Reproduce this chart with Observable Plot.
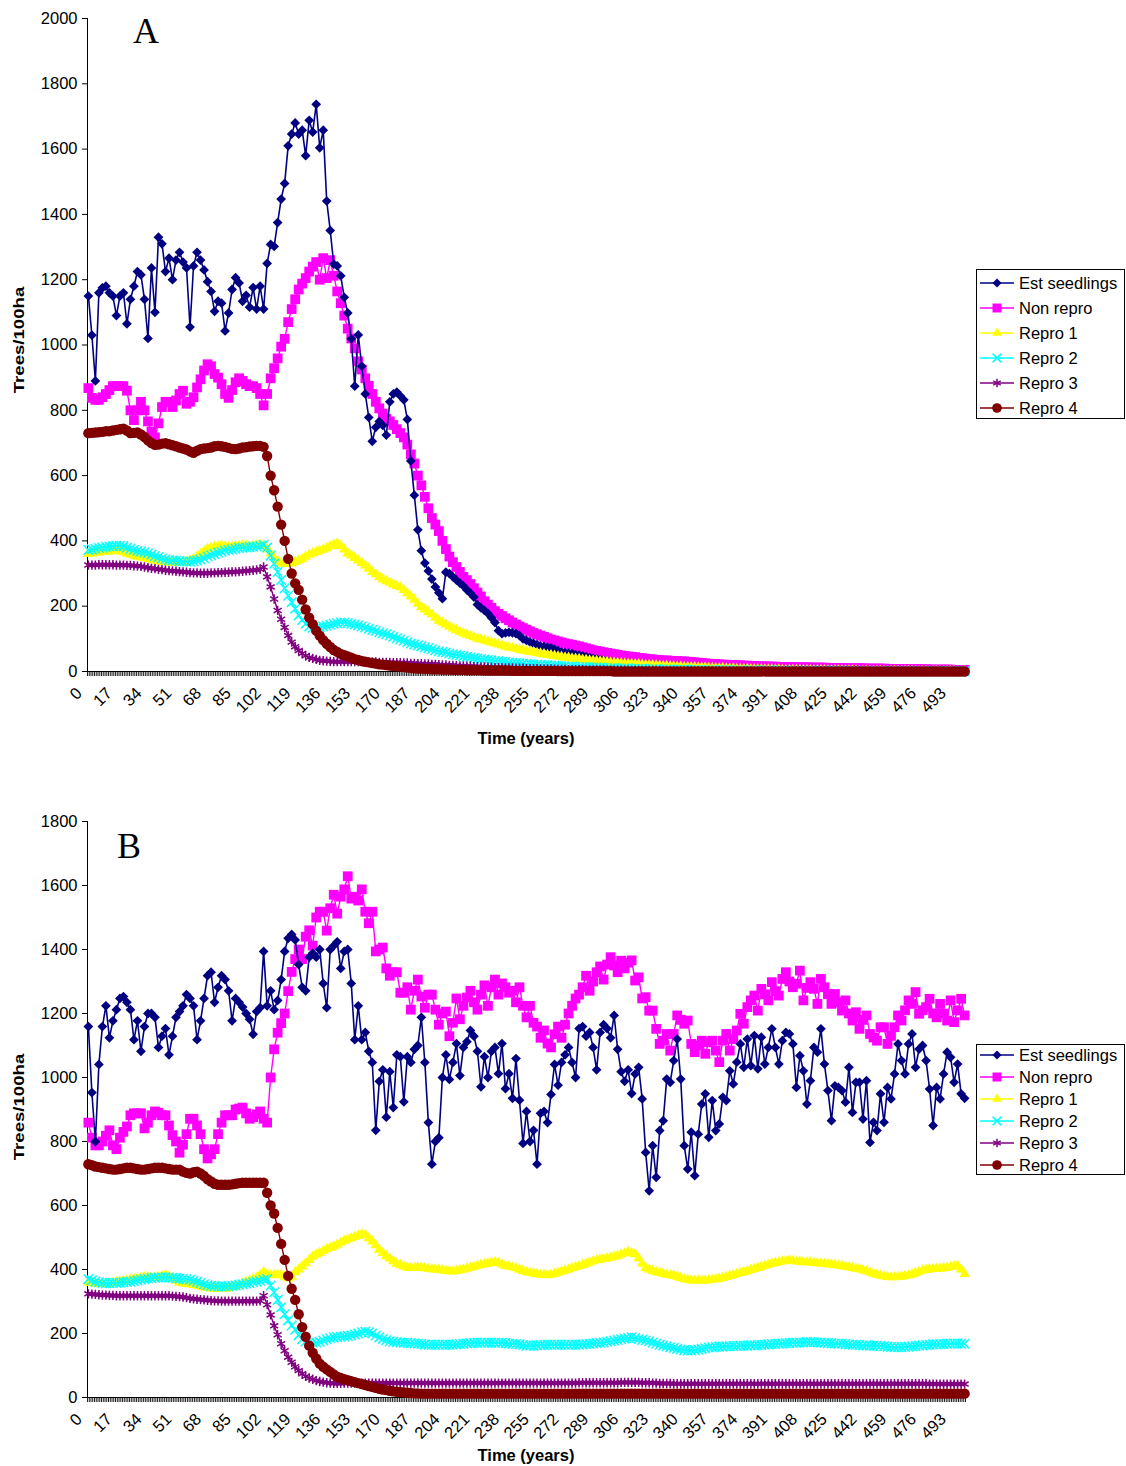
<!DOCTYPE html>
<html><head><meta charset="utf-8">
<script src="https://cdn.jsdelivr.net/npm/d3@7"></script>
<script src="https://cdn.jsdelivr.net/npm/@observablehq/plot@0.6"></script>
<style>
body{margin:0;background:#fff;}
#page{position:relative;width:1126px;height:1466px;overflow:hidden;font-family:"Liberation Sans",Arial,sans-serif;background:#fff;}
.panel{position:absolute;left:0;}
.lbl{position:absolute;font-weight:bold;white-space:nowrap;line-height:1;}
.letter{position:absolute;font-family:"Liberation Serif","Times New Roman",serif;font-size:36px;line-height:1;}
.legend{position:absolute;border:1px solid #000;background:#fff;box-sizing:border-box;}
.legend .txt{position:absolute;left:42px;height:20px;line-height:20px;font-size:16.5px;white-space:nowrap;}
</style></head><body><div id="page"></div>
<script>
const YEAR_STEP = 2; // values below are read every 2 years, from year 0 to year 500
const X_LABELS = [0,17,34,51,68,85,102,119,136,153,170,187,204,221,238,255,272,289,306,323,340,357,374,391,408,425,442,459,476,493];
const Y_TICKS_A = [0,200,400,600,800,1000,1200,1400,1600,1800,2000];
const Y_TICKS_B = [0,200,400,600,800,1000,1200,1400,1600,1800];
const SERIES = ["Est seedlings","Non repro","Repro 1","Repro 2","Repro 3","Repro 4"];
const COLORS = ["#000080","#FF00FF","#FFFF00","#00FFFF","#800080","#800000"];
const SYMBOLS = ["diamond2","square","triangle","times","asterisk","circle"];
const RADII = [4.4, 5.5, 4, 4.4, 4.4, 5.2];
const FILLED = [true,true,true,false,false,true];

// ---------------- Panel A ----------------
const A_EST = [
1150,1030,890,1160,1175,1180,1160,1150,1090,1150,
1160,1065,1140,1180,1225,1215,1140,1020,1236,1100,
1330,1310,1225,1266,1200,1260,1284,1254,1236,1055,
1242,1284,1260,1230,1194,1164,1103,1134,1128,1043,
1098,1170,1206,1190,1134,1152,1116,1176,1110,1180,
1110,1250,1308,1302,1375,1447,1495,1610,1646,1680,
1646,1658,1580,1688,1652,1737,1604,1658,1441,1351,
1248,1242,1212,1146,1098,1019,874,1031,935,850,
778,705,748,766,754,724,826,850,856,844,
832,772,645,540,434,370,332,308,283,259,
241,223,304,300,290,280,271,262,250,240,
228,205,195,187,178,165,150,125,116,118,
120,118,116,110,100,95,90,86,82,78,
76,74,72,68,64,60,58,56,55,52,
50,48,45,43,40,38,36,34,32,30,
28,27,26,25,24,22,21,20,19,18,
18,17,16,16,15,15,14,13,13,12,
12,11,11,10,10,10,9,9,9,8,
8,8,8,7,7,7,7,6,6,6,
6,6,5,5,5,5,5,5,4,4,
4,4,4,4,4,3,3,3,3,3,
3,3,3,3,3,3,2,2,2,2,
2,2,2,2,2,2,2,2,2,2,
2,2,2,1,1,1,1,1,1,1,
1,1,1,1,1,1,1,1,1,1,
1];
const A_NON = [
868,838,832,832,840,850,862,874,874,874,
874,860,800,770,800,826,800,766,735,717,
760,810,826,826,810,830,850,860,820,826,
840,870,895,922,941,935,911,900,880,850,
838,862,886,898,890,880,874,874,868,850,
815,850,898,929,959,995,1019,1070,1110,1140,
1170,1188,1205,1225,1240,1254,1200,1266,1205,1260,
1212,1164,1128,1090,1050,1020,990,950,925,898,
875,850,826,806,790,774,766,755,742,730,
717,695,665,637,600,570,535,500,470,450,
430,400,375,352,335,320,305,290,280,268,
255,242,230,215,205,195,185,177,170,163,
157,150,144,138,133,128,123,118,114,110,
106,102,98,95,92,89,86,84,82,79,
77,74,71,68,65,63,61,59,57,55,
53,51,49,48,46,45,44,42,41,39,
38,37,36,35,34,34,33,32,32,31,
31,30,29,28,27,26,25,24,23,23,
22,21,21,20,20,19,19,18,18,17,
17,16,16,16,15,15,15,14,14,14,
14,13,13,13,13,13,12,12,12,12,
12,11,11,11,11,11,10,10,10,10,
10,10,9,9,9,9,9,9,8,8,
8,8,8,8,7,7,7,7,7,7,
6,6,6,6,6,6,6,5,5,5,
5];
const A_R1 = [
360,362,364,365,366,368,368,370,370,368,
366,362,358,355,352,350,348,345,343,340,
338,336,335,334,334,334,334,335,336,340,
345,352,360,368,375,380,382,384,385,383,
382,382,384,385,386,385,384,385,386,388,
385,375,362,348,338,332,330,330,332,336,
340,344,352,358,362,366,370,374,378,384,
388,392,385,374,362,356,348,340,333,325,
316,305,298,290,283,277,272,267,262,258,
250,240,230,220,208,198,190,182,175,165,
156,150,144,138,132,127,122,117,113,109,
105,101,98,95,92,89,86,83,80,77,
74,72,70,67,65,63,61,59,57,55,
53,51,50,48,46,45,43,42,40,39,
38,36,35,34,33,32,31,30,29,28,
27,26,25,24,24,23,22,22,21,20,
20,19,19,18,17,17,16,16,15,15,
14,14,13,13,12,12,12,11,11,10,
10,10,9,9,9,8,8,8,8,7,
7,7,7,6,6,6,6,6,5,5,
5,5,5,5,4,4,4,4,4,4,
4,3,3,3,3,3,3,3,3,3,
2,2,2,2,2,2,2,2,2,2,
2,2,2,2,2,2,1,1,1,1,
1,1,1,1,1,1,1,1,1,1,
1];
const A_R2 = [
372,374,376,378,380,382,383,384,385,385,
384,380,376,372,370,368,365,362,358,354,
350,346,343,341,340,339,338,337,337,337,
338,340,343,347,352,356,360,364,367,370,
372,374,376,378,379,380,381,382,383,385,
388,380,355,330,305,280,255,232,212,192,
172,158,146,138,134,134,136,138,140,143,
146,148,150,150,148,146,144,141,138,135,
131,127,124,120,117,114,110,106,102,98,
94,90,86,83,80,77,74,71,68,65,
62,60,58,55,53,51,49,47,45,43,
41,40,38,37,35,34,33,32,30,29,
28,27,26,25,24,23,22,21,21,20,
19,19,18,18,17,16,16,15,15,14,
14,13,13,12,12,12,11,11,10,10,
10,9,9,9,9,8,8,8,8,7,
7,7,7,6,6,6,6,6,5,5,
5,5,5,5,4,4,4,4,4,4,
4,4,4,4,3,3,3,3,3,3,
3,3,3,3,3,3,3,2,2,2,
2,2,2,2,2,2,2,2,2,2,
2,2,2,2,2,2,2,1,1,1,
1,1,1,1,1,1,1,1,1,1,
1,1,1,1,1,1,1,1,1,1,
1,1,1,1,1,1,1,1,1,1,
1];
const A_R3 = [
326,326,326,327,327,327,327,327,326,326,
326,325,325,324,323,322,320,318,316,315,
313,312,310,309,308,307,306,305,304,303,
302,302,301,301,301,302,302,303,303,304,
304,305,305,306,307,308,309,310,311,313,
320,290,259,222,187,160,135,110,90,76,
64,55,48,43,40,37,34,33,32,31,
30,30,30,30,30,30,30,30,30,29,
29,29,29,28,28,28,28,27,27,27,
26,26,25,25,24,24,23,23,22,22,
21,20,20,19,19,18,17,17,16,16,
15,15,14,14,13,13,12,12,12,11,
11,11,10,10,10,9,9,9,9,8,
8,8,8,7,7,7,7,6,6,6,
6,6,5,5,5,5,5,5,4,4,
4,4,4,4,4,3,3,3,3,3,
3,3,3,3,2,2,2,2,2,2,
2,2,2,2,2,2,2,2,2,1,
1,1,1,1,1,1,1,1,1,1,
1,1,1,1,1,1,1,1,1,1,
1,1,1,1,1,1,1,1,1,1,
1,1,1,1,1,1,1,1,1,1,
1,1,1,1,1,1,1,1,1,1,
1,1,1,1,1,1,1,1,1,1,
1,1,1,1,1,1,1,1,1,1,
1];
const A_R4 = [
730,731,732,733,734,736,736,738,740,742,
744,738,730,731,732,726,718,708,700,694,
695,698,699,696,693,690,686,683,680,674,
670,676,681,683,684,686,690,691,690,688,
685,682,681,683,686,687,689,690,691,691,
688,660,600,555,505,450,400,345,300,270,
250,220,190,165,145,125,110,96,85,75,
66,60,54,50,46,42,38,35,32,30,
28,26,24,22,21,20,18,17,16,15,
14,12,11,10,9,9,8,8,7,7,
7,6,6,6,5,5,5,5,4,4,
4,4,4,3,3,3,3,3,3,3,
3,2,2,2,2,2,2,2,2,2,
2,2,2,2,1,1,1,1,1,1,
1,1,1,1,1,1,1,1,1,1,
0,0,0,0,0,0,0,0,0,0,
0,0,0,0,0,0,0,0,0,0,
0,0,0,0,0,0,0,0,0,0,
0,0,0,0,0,0,0,0,0,0,
0,0,0,0,0,0,0,0,0,0,
0,0,0,0,0,0,0,0,0,0,
0,0,0,0,0,0,0,0,0,0,
0,0,0,0,0,0,0,0,0,0,
0,0,0,0,0,0,0,0,0,0,
0,0,0,0,0,0,0,0,0,0,
0];

// ---------------- Panel B ----------------
const B_EST = [
1159,953,800,1041,1159,1224,1124,1177,1212,1247,
1253,1235,1212,1118,1177,1082,1159,1200,1200,1188,
1094,1129,1153,1071,1129,1188,1206,1224,1259,1247,
1224,1118,1177,1247,1318,1329,1235,1282,1318,1306,
1271,1177,1247,1235,1220,1200,1182,1135,1206,1218,
1394,1224,1271,1212,1241,1306,1394,1435,1447,1430,
1353,1282,1271,1376,1388,1376,1400,1294,1218,1400,
1412,1424,1341,1394,1400,1294,1118,1224,1118,1141,
1082,1047,835,988,1024,876,1018,906,1071,1065,
924,1065,1047,1088,1100,1188,1047,859,729,800,
812,1000,1071,994,1047,1106,1006,1094,1112,1147,
1129,1082,971,1065,1000,1082,1094,1012,1106,965,
1012,935,1059,929,794,894,800,835,729,888,
894,859,947,1041,976,1047,1071,1094,1047,1000,
1153,1159,1129,1141,1094,1024,1141,1165,1153,1124,
1194,1088,1018,988,1024,950,1011,1032,933,766,
646,787,688,834,865,995,985,1053,1120,995,
787,714,829,693,823,917,949,813,928,834,
855,938,928,1021,980,1048,1105,1032,1120,1037,
1131,1027,1126,1042,1094,1152,1094,1042,1115,1141,
1136,1105,969,1068,1021,917,990,1094,1079,1152,
1042,959,865,974,969,959,923,1032,891,985,
985,870,990,797,860,834,949,860,969,933,
1011,1105,1053,1011,1105,1136,1032,1089,1100,1053,
964,850,969,933,1011,1079,1063,985,1042,949,
935];
const B_NON = [
859,812,788,788,800,818,835,788,776,812,
830,847,882,888,888,888,841,859,882,894,
890,882,882,850,820,800,765,790,823,871,
871,850,823,776,747,760,776,823,859,882,
882,882,900,903,906,888,871,876,885,894,
871,859,1000,1088,1140,1170,1200,1270,1330,1370,
1400,1370,1440,1460,1412,1500,1518,1518,1459,1529,
1571,1512,1565,1588,1629,1559,1565,1553,1588,1518,
1482,1518,1394,1400,1406,1341,1318,1329,1329,1265,
1265,1282,1212,1271,1306,1253,1218,1259,1259,1212,
1165,1200,1206,1129,1171,1247,1182,1224,1250,1271,
1235,1212,1259,1288,1224,1282,1306,1259,1294,1282,
1265,1271,1235,1282,1224,1188,1224,1171,1159,1124,
1147,1106,1094,1135,1159,1124,1165,1200,1224,1247,
1259,1282,1318,1271,1300,1329,1347,1306,1353,1376,
1350,1329,1365,1341,1359,1366,1303,1313,1247,1251,
1209,1209,1152,1105,1115,1136,1084,1136,1194,1180,
1168,1178,1105,1079,1100,1115,1074,1110,1115,1084,
1048,1115,1136,1084,1120,1147,1199,1168,1220,1241,
1256,1209,1277,1260,1241,1298,1270,1256,1308,1329,
1300,1282,1293,1334,1241,1280,1298,1277,1230,1308,
1282,1260,1230,1261,1235,1209,1241,1200,1178,1204,
1152,1180,1194,1136,1125,1115,1157,1157,1105,1130,
1157,1194,1178,1210,1241,1230,1267,1199,1210,1220,
1246,1200,1188,1230,1200,1178,1241,1173,1210,1246,
1194];
const B_R1 = [
360,358,356,355,355,356,357,358,360,362,
364,366,368,370,372,374,376,376,375,374,
376,380,382,378,372,366,360,357,355,354,
352,350,347,345,343,341,340,340,340,341,
342,345,348,352,356,360,365,370,375,382,
392,385,382,383,384,382,378,372,378,392,
400,410,420,430,440,447,452,458,464,468,
472,478,484,490,494,498,502,506,510,508,
498,488,476,462,452,442,435,426,418,414,
410,406,405,405,406,406,404,402,401,400,
399,398,396,395,394,396,398,400,403,406,
409,412,415,417,419,421,423,421,416,412,
410,407,404,400,396,392,390,388,386,384,
383,382,384,387,390,394,397,400,404,408,
411,414,418,422,426,429,431,433,435,437,
440,443,447,450,455,452,448,435,418,405,
400,396,392,390,387,384,382,381,378,374,
370,368,366,366,366,366,366,367,368,370,
371,374,377,380,383,386,389,392,395,399,
402,405,409,412,415,418,421,423,425,427,
428,427,425,424,423,423,422,421,420,419,
418,417,416,414,413,411,409,407,405,403,
401,398,395,391,387,384,381,379,377,376,
376,377,378,380,382,385,389,393,397,399,
401,402,402,403,404,406,408,410,412,400,
386];
const B_R2 = [
370,366,362,360,358,357,357,358,358,359,
360,361,362,364,366,368,370,372,373,374,
375,376,376,375,374,373,372,371,370,368,
365,362,358,354,351,349,348,347,347,347,
348,349,350,352,354,356,358,360,362,365,
368,370,350,329,305,282,260,241,225,212,
195,182,175,171,171,172,174,178,182,185,
188,189,190,191,193,194,197,200,204,206,
204,200,194,188,183,179,176,174,173,172,
171,171,170,169,168,167,166,165,165,165,
165,165,165,165,165,166,167,168,169,170,
171,171,171,171,171,171,171,171,171,170,
169,168,167,166,164,162,162,162,163,164,
164,165,165,165,165,165,165,165,165,165,
165,166,167,168,169,170,171,172,174,176,
178,180,182,184,186,188,186,183,180,178,
176,172,168,165,162,160,157,155,152,150,
148,147,147,148,150,152,154,156,157,158,
159,159,160,160,161,161,162,162,162,163,
163,164,164,165,166,167,167,168,169,170,
170,171,171,172,172,173,173,173,172,172,
171,170,170,169,168,168,167,166,165,165,
164,163,163,162,162,162,161,160,159,158,
157,157,157,158,159,160,161,162,163,164,
165,166,166,167,167,168,168,169,169,168,
168];
const B_R3 = [
324,323,322,321,320,320,319,319,318,318,
318,318,318,318,318,318,318,318,318,318,
318,318,318,318,317,316,315,314,312,310,
308,307,306,305,304,303,302,302,301,301,
301,301,301,301,301,301,301,301,301,302,
318,290,258,224,196,168,146,126,110,96,
84,74,66,61,57,53,50,48,46,45,
44,44,44,45,45,45,45,45,45,45,
45,45,45,45,45,45,45,45,45,45,
45,45,45,45,45,45,45,45,45,45,
45,45,45,45,45,45,45,45,45,45,
45,45,45,45,45,45,45,45,45,45,
45,45,45,45,45,45,45,45,45,45,
45,45,45,45,45,45,45,45,45,45,
46,46,46,46,46,46,46,46,46,46,
46,46,47,47,47,47,47,47,46,46,
46,45,45,44,44,44,44,43,43,43,
43,43,43,43,43,43,43,43,43,43,
43,43,43,43,43,43,43,43,43,43,
43,43,43,43,43,43,43,43,43,43,
43,43,43,43,43,43,43,43,43,43,
43,43,43,43,43,43,43,43,43,43,
43,43,43,43,43,43,43,43,43,43,
43,43,43,43,43,43,43,43,43,43,
42,42,42,42,42,42,42,42,42,42,
42];
const B_R4 = [
729,726,722,720,718,716,714,712,712,714,
716,718,718,716,714,712,712,714,716,718,
718,718,716,714,712,712,712,706,702,700,
704,706,700,692,682,675,668,665,665,665,
665,666,668,670,671,671,671,671,671,671,
671,640,600,575,530,480,430,380,340,305,
260,220,190,162,140,122,106,96,88,80,
72,65,61,57,54,51,48,45,42,39,
36,33,30,27,25,23,21,19,18,17,
16,15,14,13,13,12,12,12,12,12,
12,12,12,12,12,12,12,12,12,12,
12,12,12,12,12,12,12,12,12,12,
12,12,12,12,12,12,12,12,12,12,
12,12,12,12,12,12,12,12,12,12,
12,12,12,12,12,12,12,12,12,12,
12,12,12,12,12,12,12,12,12,12,
12,12,12,12,12,12,12,12,12,12,
12,12,12,12,12,12,12,12,12,12,
12,12,12,12,12,12,12,12,12,12,
12,12,12,12,12,12,12,12,12,12,
12,12,12,12,12,12,12,12,12,12,
12,12,12,12,12,12,12,12,12,12,
12,12,12,12,12,12,12,12,12,12,
12,12,12,12,12,12,12,12,12,12,
12,12,12,12,12,12,12,12,12,12,
12];

const SYM = {diamond2: d3.symbolDiamond2, square: d3.symbolSquare, triangle: d3.symbolTriangle,
             times: d3.symbolTimes, asterisk: d3.symbolAsterisk, circle: d3.symbolCircle};

function rows(vals){ return vals.map((v,i)=>({year:i*YEAR_STEP, v})); }

function panel(data, yTicks, height, mt, mb){
  const order = [1,0,2,3,4,5];
  const marks = [
    Plot.axisX({ticks: d3.range(-0.5, 501, 1), tickSize: 5, tickFormat: () => "", label: null, stroke: "#222"}),
    Plot.axisX({ticks: X_LABELS, tickSize: 0, tickPadding: 10, tickRotate: -45, fontSize: 16.5, label: null,
                tickFormat: d => String(d), dx: -9, dy: 9}),
    Plot.axisY({ticks: yTicks, tickSize: 5, tickPadding: 5, fontSize: 16.5, label: null, tickFormat: d => String(d)}),
    Plot.ruleX([-0.5], {stroke: "#000"}),
    Plot.ruleY([0], {stroke: "#000"})
  ];
  for (const k of order){
    const r = rows(data[k]);
    marks.push(Plot.line(r, {x: "year", y: "v", stroke: COLORS[k], strokeWidth: k === 0 ? 1.6 : 1.4}));
    marks.push(Plot.dot(r, {x: "year", y: "v", symbol: SYMBOLS[k], r: RADII[k],
      fill: FILLED[k] ? COLORS[k] : "none", stroke: FILLED[k] ? "none" : COLORS[k], strokeWidth: 1.5}));
  }
  return Plot.plot({
    width: 1126, height, marginLeft: 87, marginRight: 161, marginTop: mt, marginBottom: mb,
    x: {domain: [-0.5, 500.5]},
    y: {domain: [0, yTicks[yTicks.length-1]]},
    style: {fontFamily: '"Liberation Sans", Arial, sans-serif', fontSize: "16.5px", background: "white", color: "black", overflow: "visible"},
    marks
  });
}

const page = document.getElementById("page");
function place(node, top){
  const d = document.createElement("div");
  d.className = "panel"; d.style.top = top + "px";
  d.appendChild(node); page.appendChild(d);
}
place(panel([A_EST,A_NON,A_R1,A_R2,A_R3,A_R4], Y_TICKS_A, 760, 18, 89), 0);
place(panel([B_EST,B_NON,B_R1,B_R2,B_R3,B_R4], Y_TICKS_B, 706, 61, 69), 760);

function text(cls, str, css){
  const d = document.createElement("div"); d.className = cls; d.textContent = str;
  Object.assign(d.style, css); page.appendChild(d); return d;
}
// axis titles
text("lbl", "Time (years)", {left: "526px", top: "738px", fontSize: "16.5px", transform: "translate(-50%,-50%)"});
text("lbl", "Time (years)", {left: "526px", top: "1455px", fontSize: "16.5px", transform: "translate(-50%,-50%)"});
text("lbl", "Trees/100ha", {left: "19px", top: "340px", fontSize: "15.5px", transform: "translate(-50%,-50%) rotate(-90deg) scaleX(1.2)"});
text("lbl", "Trees/100ha", {left: "19px", top: "1107px", fontSize: "15.5px", transform: "translate(-50%,-50%) rotate(-90deg) scaleX(1.2)"});
// panel letters
text("letter", "A", {left: "133px", top: "13px"});
text("letter", "B", {left: "117px", top: "828px"});

function legend(left, top, w, h, first, step){
  const box = document.createElement("div");
  box.className = "legend";
  Object.assign(box.style, {left: left+"px", top: top+"px", width: w+"px", height: h+"px"});
  SERIES.forEach((name, k) => {
    const cy = first + k*step;
    const svg = d3.create("svg").attr("width", 40).attr("height", 20)
      .style("position", "absolute").style("left", "1px").style("top", (cy-10)+"px");
    svg.append("line").attr("x1", 2).attr("x2", 36).attr("y1", 10).attr("y2", 10)
      .attr("stroke", COLORS[k]).attr("stroke-width", 1.4);
    svg.append("path").attr("transform", "translate(19,10)")
      .attr("d", d3.symbol(SYM[SYMBOLS[k]], Math.PI*RADII[k]*RADII[k]*0.85)())
      .attr("fill", FILLED[k] ? COLORS[k] : "none")
      .attr("stroke", FILLED[k] ? "none" : COLORS[k]).attr("stroke-width", 1.5);
    box.appendChild(svg.node());
    const t = document.createElement("div"); t.className = "txt"; t.textContent = name;
    t.style.top = (cy-10)+"px"; box.appendChild(t);
  });
  page.appendChild(box);
}
legend(976, 269, 149, 150, 13, 25);
legend(976, 1044, 149, 131, 10, 22);
</script>
</body></html>
